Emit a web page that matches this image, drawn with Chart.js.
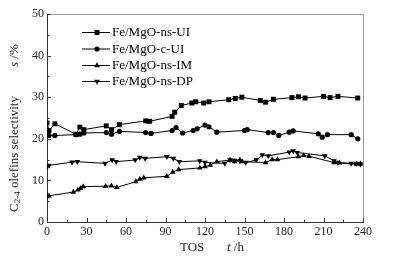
<!DOCTYPE html>
<html>
<head>
<meta charset="utf-8">
<script src="https://cdn.jsdelivr.net/npm/chart.js@4"></script>
<style>
  html, body { margin: 0; padding: 0; background: #fff; }
  #wrap { width: 394px; height: 260px; }
</style>
</head>
<body>
<div id="wrap"><canvas id="micanvas" width="394" height="260"></canvas></div>
<script>
// TOS (h) and selectivity (%)
let etiquetas = ["Fe/MgO-ns-UI", "Fe/MgO-c-UI", "Fe/MgO-ns-IM", "Fe/MgO-ns-DP"]

let tUI = [0, 1.5, 6, 22, 25, 28, 45, 49, 55, 75, 78, 95, 97, 102, 110, 113, 119, 123, 138, 143, 148, 162, 166, 172, 186, 191, 196, 210, 215, 221, 236]
let sUI = [23.8, 22.0, 23.6, 21.1, 22.8, 22.2, 23.1, 22.2, 23.4, 24.3, 24.2, 25.4, 26.4, 28.0, 28.6, 28.9, 28.6, 28.9, 29.4, 29.7, 30.0, 29.2, 28.8, 29.5, 29.9, 30.1, 29.8, 30.2, 29.9, 30.2, 29.8]

let tCUI = [0, 1.5, 6, 22, 25, 28, 45, 49, 55, 75, 79, 95, 98, 103, 111, 114, 120, 123, 129, 150, 152, 168, 172, 176, 184, 187, 206, 209, 213, 231, 236]
let sCUI = [22.0, 20.8, 20.8, 21.0, 21.1, 21.4, 21.5, 21.1, 21.8, 21.5, 21.3, 22.0, 22.7, 21.4, 22.0, 22.4, 23.3, 22.9, 21.6, 22.0, 22.2, 21.5, 21.5, 20.8, 21.6, 21.9, 21.2, 20.4, 21.0, 21.0, 20.0]

let tIM = [0, 1.5, 20, 23.5, 25.5, 27.5, 44.5, 49, 53, 67.5, 70.5, 73.5, 91, 95.5, 100, 116, 120, 124, 129, 139, 142.5, 146.5, 148.5, 166, 171, 175, 191, 195, 199, 218, 222, 235, 238]
let sIM = [6.1, 6.3, 7.2, 7.7, 8.1, 8.5, 8.6, 8.7, 8.3, 9.7, 10.3, 10.6, 11.0, 12.0, 12.6, 13.0, 13.3, 13.7, 14.5, 14.9, 14.5, 14.9, 14.5, 14.3, 15.0, 15.0, 15.7, 16.0, 15.8, 14.3, 14.2, 13.9, 14.0]

let tDP = [0, 1.5, 19, 23, 44, 49.5, 52.5, 67, 70.5, 74.5, 91, 96, 100.5, 116, 120, 135, 139, 142.5, 146.5, 151, 159, 163.5, 168, 184, 187, 190, 211, 218, 221, 231, 235, 238]
let sDP = [13.3, 13.6, 14.4, 14.5, 14.1, 14.9, 14.5, 14.9, 15.5, 15.3, 15.7, 15.3, 14.5, 14.7, 14.3, 14.1, 14.9, 14.8, 14.7, 14.3, 14.9, 16.1, 15.9, 16.8, 17.1, 16.7, 15.9, 14.7, 14.3, 14.1, 14.1, 13.9]

let xTicks = [0, 30, 60, 90, 120, 150, 180, 210, 240]
let yTicks = [0, 10, 20, 30, 40, 50]

const serif = '"Liberation Serif", "Times New Roman", serif'

function puntos(t, s) {
  return t.map((x, i) => ({ x: x, y: s[i] }))
}

function serie(label, t, s, estilo, radio, giro) {
  return {
    label: label,
    data: puntos(t, s),
    borderColor: '#000',
    borderWidth: 1,
    backgroundColor: '#000',
    pointBackgroundColor: '#000',
    pointBorderColor: '#000',
    pointBorderWidth: 0,
    pointStyle: estilo,
    pointRadius: radio,
    pointRotation: giro || 0,
    tension: 0
  }
}

// frame, inward ticks, legend and axis titles
const adornos = {
  id: 'adornos',
  afterDraw(chart) {
    const ctx = chart.ctx
    const a = chart.chartArea
    const sx = chart.scales.x, sy = chart.scales.y
    ctx.save()

    ctx.strokeStyle = '#999'
    ctx.lineWidth = 1
    ctx.beginPath()
    ctx.moveTo(a.left, a.top + 0.5); ctx.lineTo(a.right + 0.5, a.top + 0.5)
    ctx.lineTo(a.right + 0.5, a.bottom)
    ctx.stroke()

    ctx.strokeStyle = '#333'
    ctx.beginPath()
    for (let v = 0; v <= 240; v += 15) {
      const px = Math.round(sx.getPixelForValue(v)) + 0.5
      const len = v % 30 === 0 ? 4 : 2.5
      ctx.moveTo(px, a.bottom); ctx.lineTo(px, a.bottom - len)
    }
    for (let v = 0; v <= 50; v += 5) {
      const py = Math.round(sy.getPixelForValue(v)) + 0.5
      const len = v % 10 === 0 ? 4 : 2.5
      ctx.moveTo(a.left, py); ctx.lineTo(a.left + len, py)
    }
    ctx.stroke()

    // legend
    const filas = [32, 48.5, 65, 81]
    chart.data.datasets.forEach((d, i) => {
      const y = filas[i]
      ctx.strokeStyle = '#000'
      ctx.lineWidth = 1
      ctx.beginPath()
      ctx.moveTo(82, y + 0.5); ctx.lineTo(110, y + 0.5)
      ctx.stroke()
      ctx.fillStyle = '#000'
      Chart.helpers.drawPoint(ctx, { pointStyle: d.pointStyle, radius: d.pointRadius, rotation: d.pointRotation, borderWidth: 0 }, 97, y + 0.5)
      ctx.font = '13px ' + serif
      ctx.textAlign = 'left'
      ctx.textBaseline = 'middle'
      ctx.fillText(d.label, 112, y + 1)
    })

    // y title
    ctx.fillStyle = '#222'
    ctx.translate(15, 212)
    ctx.rotate(-Math.PI / 2)
    ctx.textAlign = 'left'
    ctx.textBaseline = 'middle'
    let x = 0
    ctx.font = '13px ' + serif
    ctx.fillText('C', x, 0); x += ctx.measureText('C').width
    ctx.font = '9px ' + serif
    ctx.fillText('2-4', x, 3); x += ctx.measureText('2-4').width
    ctx.font = '13px ' + serif
    ctx.fillText(' olefins selectivity', x, 0)
    x = 145
    ctx.font = 'italic 13px ' + serif
    ctx.fillText('s', x, 0); x += ctx.measureText('s').width
    ctx.font = '13px ' + serif
    ctx.fillText(' /%', x, 0)
    ctx.setTransform(1, 0, 0, 1, 0, 0)

    // x title
    ctx.font = '13px ' + serif
    ctx.textBaseline = 'middle'
    ctx.fillText('TOS', 180, 248)
    ctx.font = 'italic 13px ' + serif
    ctx.fillText('t', 227, 248)
    x = 227 + ctx.measureText('t').width
    ctx.font = '13px ' + serif
    ctx.fillText(' /h', x, 248)

    ctx.restore()
  }
}

let contexto = document.getElementById('micanvas').getContext('2d')
let opciones = {
  type: 'line',
  data: {
    datasets: [
      serie(etiquetas[0], tUI, sUI, 'rect', 3.5),
      serie(etiquetas[1], tCUI, sCUI, 'circle', 2.6),
      serie(etiquetas[2], tIM, sIM, 'triangle', 3.3),
      serie(etiquetas[3], tDP, sDP, 'triangle', 3.3, 180)
    ]
  },
  options: {
    responsive: false,
    animation: false,
    devicePixelRatio: 1,
    layout: { padding: { top: 14, right: 31, left: 0, bottom: 0 } },
    plugins: { legend: { display: false }, tooltip: { enabled: false } },
    scales: {
      x: {
        type: 'linear',
        min: 0, max: 240,
        afterFit(s) { s.height = 38 },
        afterBuildTicks(s) { s.ticks = xTicks.map(v => ({ value: v })) },
        grid: { display: false, drawTicks: false },
        border: { display: true, color: '#333', width: 1 },
        ticks: { padding: 3, color: '#222', font: { family: serif, size: 12 }, maxRotation: 0 }
      },
      y: {
        min: 0, max: 50,
        afterFit(s) { s.width = 47 },
        afterBuildTicks(s) { s.ticks = yTicks.map(v => ({ value: v })) },
        grid: { display: false, drawTicks: false },
        border: { display: true, color: '#333', width: 1 },
        ticks: { padding: 3, color: '#222', font: { family: serif, size: 12 } }
      }
    }
  },
  plugins: [adornos]
}

let grafica = new Chart(contexto, opciones)
</script>
</body>
</html>
